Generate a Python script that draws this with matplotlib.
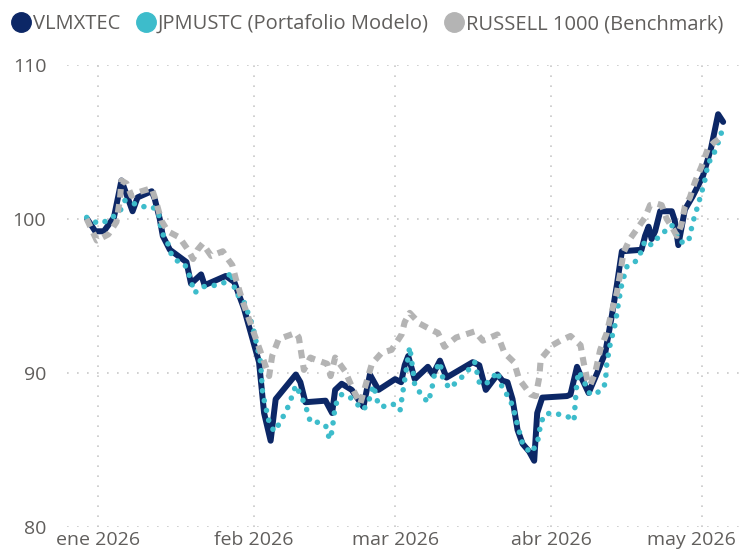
import numpy as np
import matplotlib
matplotlib.use("Agg")
import matplotlib.pyplot as plt
import matplotlib.transforms as mtransforms
from matplotlib.lines import Line2D
import pandas as pd

plt.rcParams['font.family'] = ['Open Sans', 'DejaVu Sans']

# days counted from 2026-01-01
vlm_days = [-2.1, -0.5, 1.2, 3.2, 4.7, 6.9, 7.9, 10.7, 11.3, 12.3, 12.9, 14.3, 17.6, 18.5, 20.5, 21.2,
            25.4, 27.1, 28.1, 29.0, 32.0, 33.0, 34.3, 35.3, 39.3, 40.2, 41.2, 45.2, 46.5, 47.1, 48.4,
            50.4, 52.7, 54.0, 55.7, 59.0, 60.2, 60.9, 61.6, 62.9, 65.5, 66.5, 67.9, 69.2, 74.4, 75.7,
            77.0, 79.3, 80.3, 81.3, 82.3, 83.3, 84.3, 85.6, 86.6, 87.2, 88.2, 93.1, 93.8, 95.1, 96.1,
            97.4, 99.1, 100.7, 102.0, 103.0, 104.0, 107.9, 108.6, 109.3, 109.9, 110.6, 111.6, 113.9,
            114.5, 115.2, 116.5, 118.1, 120.1, 121.7, 123.1, 124.1]
vlm_vals = [100.0, 99.2, 99.2, 100.1, 102.5, 100.5, 101.4, 101.8, 101.3, 100.0, 98.9, 98.0, 97.2, 95.8,
            96.4, 95.7, 96.3, 95.9, 95.0, 94.2, 90.7, 87.4, 85.6, 88.3, 89.9, 89.4, 88.1, 88.2, 87.4,
            88.9, 89.3, 88.9, 87.8, 89.9, 88.9, 89.6, 89.4, 90.5, 91.1, 89.6, 90.4, 89.9, 90.8, 89.7,
            90.7, 90.5, 88.9, 89.9, 89.5, 89.4, 88.3, 86.3, 85.4, 84.9, 84.3, 87.4, 88.4, 88.5, 88.6,
            90.4, 89.6, 88.7, 90.0, 91.3, 93.7, 95.7, 97.9, 98.0, 98.9, 99.5, 98.7, 99.2, 100.5, 100.5,
            99.9, 98.3, 100.6, 101.5, 102.8, 104.6, 106.8, 106.3]

jpm_days = [-2.2, 0.1, 2.1, 4.4, 5.4, 6.4, 8.7, 10.7, 12.0, 12.6, 13.9, 14.6, 15.6, 17.2, 18.2, 19.2,
            20.8, 23.5, 25.4, 26.4, 27.4, 28.7, 30.7, 32.3, 32.7, 34.0, 35.0, 36.0, 37.0, 37.9, 39.3,
            41.2, 42.2, 43.8, 45.2, 45.8, 46.2, 46.8, 47.1, 48.4, 49.8, 51.7, 52.7, 53.7, 54.7, 55.7,
            57.3, 59.0, 60.0, 60.6, 61.9, 62.6, 62.9, 64.2, 65.5, 66.2, 66.9, 67.9, 68.5, 69.8, 71.5,
            72.8, 74.8, 75.7, 76.7, 78.4, 79.3, 80.3, 81.0, 82.3, 83.3, 84.3, 85.9, 87.2, 87.9, 88.6,
            89.9, 91.8, 93.8, 94.5, 94.8, 95.1, 95.5, 96.4, 97.7, 99.7, 100.7, 101.0, 101.7, 102.7,
            103.3, 104.0, 105.0, 106.6, 107.6, 108.6, 109.9, 110.9, 112.2, 113.9, 114.9, 115.6, 117.2,
            118.1, 119.2, 120.4, 121.1, 122.1, 123.4, 124.1]
jpm_vals = [100.1, 99.7, 99.9, 100.5, 101.2, 101.1, 100.8, 100.8, 100.5, 99.2, 98.4, 97.7, 97.3, 97.1,
            96.3, 95.2, 95.6, 95.7, 95.9, 96.6, 95.1, 94.9, 93.1, 90.7, 88.7, 86.8, 86.2, 86.7, 87.3,
            87.9, 89.2, 87.9, 86.8, 86.8, 86.6, 85.9, 85.7, 87.0, 87.9, 88.6, 88.5, 87.9, 87.6, 88.1,
            89.2, 87.9, 87.8, 88.0, 87.6, 88.9, 91.7, 90.0, 89.2, 88.6, 88.1, 88.8, 90.1, 90.7, 89.6,
            89.0, 89.5, 89.9, 90.7, 89.4, 89.2, 89.7, 90.1, 89.0, 88.7, 87.9, 86.6, 85.4, 84.8, 85.4,
            86.7, 87.3, 87.4, 87.3, 87.1, 86.9, 88.3, 89.5, 90.1, 89.5, 88.6, 88.8, 89.3, 90.6, 91.9,
            93.2, 94.5, 95.8, 96.9, 97.2, 97.7, 98.6, 98.3, 98.7, 99.1, 99.6, 99.0, 98.5, 98.5, 99.8,
            101.0, 102.4, 103.6, 104.1, 105.2, 106.0]

rus_days = [-2.2, -0.2, 2.1, 3.7, 4.4, 4.7, 5.7, 6.7, 7.7, 10.7, 11.6, 12.6, 13.9, 16.2, 17.9, 18.9,
            19.8, 20.8, 22.5, 24.8, 25.8, 26.7, 27.4, 28.7, 30.0, 31.4, 32.7, 34.0, 34.6, 35.9, 39.3,
            39.9, 40.9, 42.2, 42.9, 45.5, 46.2, 47.1, 49.1, 50.7, 52.1, 53.4, 54.4, 56.3, 58.3, 60.3,
            60.9, 61.9, 63.9, 66.2, 67.5, 68.8, 71.1, 74.8, 76.4, 79.3, 80.7, 82.6, 83.6, 85.9, 86.9,
            87.6, 87.9, 90.2, 91.8, 93.8, 95.8, 96.4, 97.1, 97.7, 98.7, 99.7, 101.0, 102.0, 103.0,
            103.7, 104.3, 105.6, 106.9, 108.6, 109.6, 110.9, 111.9, 112.9, 113.9, 114.9, 115.8, 116.5,
            117.5, 118.5, 119.8, 121.1, 122.4, 123.7]
rus_vals = [100.0, 98.6, 99.0, 99.8, 101.3, 102.5, 102.3, 101.5, 101.7, 102.0, 101.1, 99.9, 99.2, 98.8,
            98.0, 97.4, 98.0, 98.4, 97.6, 97.9, 97.4, 97.0, 96.1, 94.7, 93.5, 92.2, 91.0, 89.8, 91.1,
            92.2, 92.6, 92.3, 90.2, 91.0, 90.9, 90.6, 89.8, 91.0, 90.1, 88.9, 88.0, 89.5, 90.6, 91.3,
            91.5, 92.5, 93.3, 93.9, 93.2, 92.8, 92.6, 91.7, 92.3, 92.7, 92.1, 92.5, 91.3, 90.7, 89.6,
            88.6, 88.5, 89.7, 90.9, 91.8, 92.1, 92.4, 91.8, 90.7, 89.6, 89.2, 90.0, 91.5, 92.6, 94.0,
            95.2, 96.5, 97.8, 98.7, 99.3, 100.1, 100.9, 101.0, 100.9, 100.0, 99.5, 98.9, 99.6, 100.8,
            101.4, 102.4, 103.4, 104.6, 105.0, 105.3]

series_names = ["VLMXTEC", "JPMUSTC (Portafolio Modelo)", "RUSSELL 1000 (Benchmark)"]
month_ticks = ["2026-01-01", "2026-02-01", "2026-03-01", "2026-04-01", "2026-05-01"]
month_labels = ["ene 2026", "feb 2026", "mar 2026", "abr 2026", "may 2026"]
y_ticks = [80, 90, 100, 110]

navy = "#0C2766"
teal = "#3DBCCB"
grey = "#B4B4B4"
text_col = "#605E5C"

start = pd.Timestamp("2026-01-01")
def to_dates(days):
    return start + pd.to_timedelta(np.array(days), unit="D")

fig = plt.figure(figsize=(7.45, 5.58), dpi=100)
ax = fig.add_axes([0.09, 0.0556, 0.903, 0.828])

ax.plot(to_dates(vlm_days), vlm_vals, color=navy, lw=4.3, solid_joinstyle="round",
        solid_capstyle="round", zorder=2)
ax.plot(to_dates(jpm_days), jpm_vals, color=teal, lw=4.0, linestyle=(0, (0.01, 1.8)),
        dash_capstyle="round", zorder=3)
ax.plot(to_dates(rus_days), rus_vals, color=grey, lw=4.4, linestyle=(0, (1.4, 1.1)),
        dash_capstyle="butt", zorder=4)

ax.set_ylim(80, 110)
ax.set_xlim(start + pd.Timedelta(days=-6.1), start + pd.Timedelta(days=127.4))
ax.set_yticks(y_ticks)
ax.set_xticks(pd.to_datetime(month_ticks))
ax.set_xticklabels(month_labels)
ax.grid(True, color="#C8C8C8", lw=1.2, linestyle=(0, (1, 5)))
ax.set_axisbelow(True)
for s in ax.spines.values():
    s.set_visible(False)
ax.tick_params(axis="both", length=0, colors=text_col, labelsize=14)
ax.tick_params(axis="y", pad=15)
ax.tick_params(axis="x", pad=3)

# last month label is pushed left to stay inside the figure
lbl = ax.get_xticklabels()[-1]
lbl.set_transform(lbl.get_transform() + mtransforms.ScaledTranslation(-0.11, 0, fig.dpi_scale_trans))

handles = [Line2D([], [], ls="none", marker="o", ms=14, color=c) for c in (navy, teal, grey)]
fig.legend(handles, series_names, loc="upper left", bbox_to_anchor=(-0.004, 1.0), ncol=3,
           frameon=False, handlelength=1.0, handletextpad=0.1, columnspacing=0.75,
           fontsize=14.5, labelcolor=text_col, borderaxespad=0.3)

fig.savefig("out.png", dpi=100)
